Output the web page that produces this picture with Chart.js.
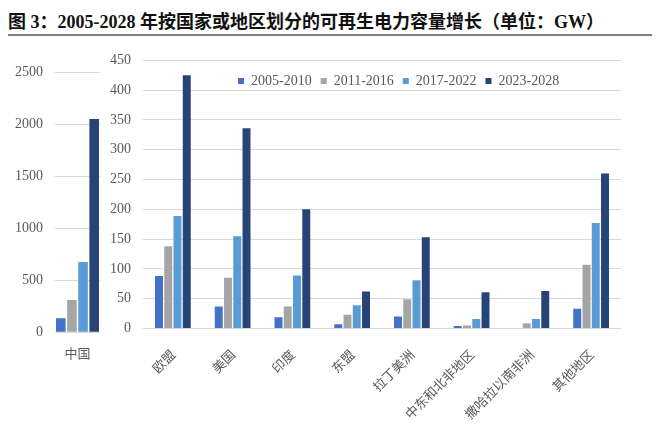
<!DOCTYPE html>
<html>
<head>
<meta charset="utf-8">
<script src="https://cdn.jsdelivr.net/npm/chart.js@4/dist/chart.umd.min.js"></script>
<style>
  html, body { margin: 0; padding: 0; background: #fff; }
  body { width: 660px; height: 432px; position: relative; overflow: hidden; }
  #title {
    position: absolute; left: 8px; top: 9px; width: 644px; height: 25px;
    border-bottom: 2px solid #7f7f7f;
    font-family: "Liberation Serif", "Noto Sans CJK SC", serif;
    font-weight: bold; font-size: 18px; line-height: 26px; color: #111;
    white-space: nowrap;
  }
  canvas { position: absolute; top: 40px; }
  #cnChart { left: 0; }
  #regionChart { left: 100px; }
</style>
</head>
<body>
<div id="title">图 3：2005-2028 年按国家或地区划分的可再生电力容量增长（单位：GW）</div>
<canvas id="cnChart" width="102" height="392"></canvas>
<canvas id="regionChart" width="560" height="392"></canvas>
<script>
(function () {
    // 数据（单位：GW）
    const periods = ['2005-2010', '2011-2016', '2017-2022', '2023-2028'];
    const colors = ['#4472C4', '#A5A5A5', '#5B9BD5', '#264478'];

    const chinaLabels = ['中国'];
    const chinaValues = [135, 311, 676, 2054];

    const regions = ['欧盟', '美国', '印度', '东盟', '拉丁美洲', '中东和北非地区', '撒哈拉以南非洲', '其他地区'];
    const v2005_2010 = [88, 37, 19, 7, 20, 4, 1, 33];
    const v2011_2016 = [138, 85, 37, 23, 49, 5, 9, 107];
    const v2017_2022 = [189, 155, 89, 39, 81, 16, 16, 177];
    const v2023_2028 = [425, 336, 200, 62, 153, 61, 63, 260];

    const leftTicks = { max: 2500, step: 500 };
    const rightTicks = { max: 450, step: 50 };

    const numFont = { family: 'Liberation Serif', size: 14 };
    const cjkFont = { family: 'Noto Sans CJK SC', size: 13 };
    const textColor = '#595959';
    const gridColor = '#D9D9D9';

    function yAxis(t, width) {
        return {
            min: 0,
            max: t.max,
            ticks: {
                stepSize: t.step, padding: 12, color: textColor, font: numFont,
                callback: v => String(v)
            },
            grid: { color: gridColor, drawTicks: false },
            border: { display: false },
            afterFit: s => { s.width = width; }
        };
    }

    // 中国 单独一张图（刻度不同）
    new Chart(document.getElementById('cnChart'), {
        type: 'bar',
        data: {
            labels: chinaLabels,
            datasets: periods.map((p, i) => ({
                label: p,
                data: [chinaValues[i]],
                backgroundColor: colors[i],
                borderWidth: 0,
                barPercentage: 0.86,
                categoryPercentage: 0.99
            }))
        },
        options: {
            responsive: false,
            animation: false,
            layout: { padding: { top: 32.7, right: 2, bottom: 0, left: 0 } },
            plugins: { legend: { display: false }, tooltip: { enabled: false } },
            scales: {
                x: {
                    ticks: { padding: 5, color: textColor, font: { family: 'Noto Sans CJK SC', size: 13 } },
                    grid: { display: false },
                    border: { display: false },
                    afterFit: s => { s.height = 99.7; }
                },
                y: yAxis(leftTicks, 55)
            }
        }
    });

    // 图例放进绘图区内部
    const legendInside = {
        id: 'legendInside',
        afterLayout(chart) {
            const lg = chart.legend;
            const pad = lg.options.labels.padding;
            lg.left = 138 - pad;
            lg.right = chart.width;
            lg.top = 81 - 40 - 7 - pad;
            lg.height = 32;
            lg.bottom = lg.top + lg.height;
            lg.width = lg.right - lg.left;
        }
    };

    const seriesValues = [v2005_2010, v2011_2016, v2017_2022, v2023_2028];

    new Chart(document.getElementById('regionChart'), {
        type: 'bar',
        data: {
            labels: regions,
            datasets: periods.map((p, i) => ({
                label: p,
                data: seriesValues[i],
                backgroundColor: colors[i],
                borderWidth: 0,
                barPercentage: 0.86,
                categoryPercentage: 0.62
            }))
        },
        options: {
            responsive: false,
            animation: false,
            layout: { padding: { top: 19.5, right: 39, bottom: 0, left: 0 } },
            plugins: {
                tooltip: { enabled: false },
                legend: {
                    position: 'top',
                    align: 'start',
                    maxHeight: 0.01,
                    labels: {
                        boxWidth: 6,
                        boxHeight: 6,
                        padding: 9,
                        color: textColor,
                        font: numFont
                    }
                }
            },
            scales: {
                x: {
                    ticks: {
                        padding: 10,
                        autoSkip: false,
                        minRotation: 45,
                        maxRotation: 45,
                        color: textColor,
                        font: cjkFont
                    },
                    grid: { display: false },
                    border: { display: false },
                    afterFit: s => { s.height = 103.5; }
                },
                y: yAxis(rightTicks, 43)
            }
        },
        plugins: [legendInside]
    });
})();
</script>
</body>
</html>
